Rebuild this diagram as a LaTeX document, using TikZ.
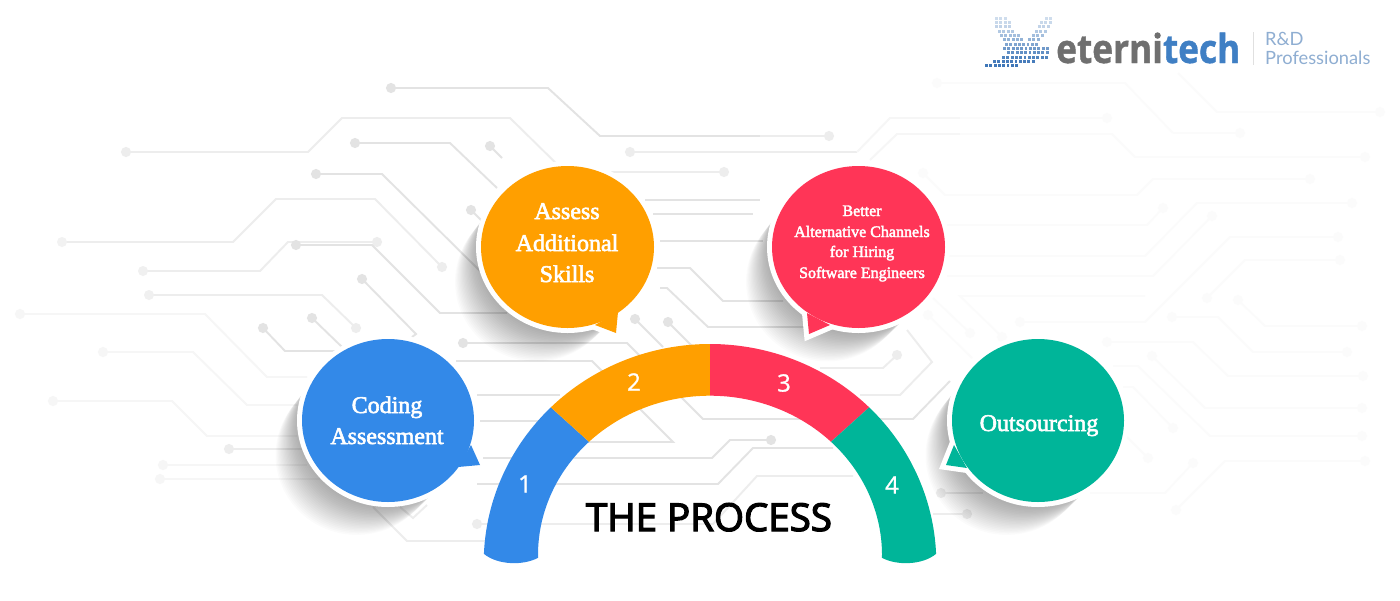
\documentclass[tikz,border=0pt]{standalone}
\usepackage{fontspec}
\usetikzlibrary{arrows.meta}
\setmainfont{Liberation Serif}
\newfontfamily\bubf[FakeBold=2.4]{Liberation Serif}
\newfontfamily\numf[FakeBold=1]{Open Sans}
\newfontfamily\titlef[FakeBold=3.2]{Open Sans}
\newfontfamily\logof[FakeStretch=0.88,FakeBold=1]{Open Sans}
\newfontfamily\logolight{Lato}
\definecolor{cblue}{HTML}{3389E8}
\definecolor{corange}{HTML}{FF9F00}
\definecolor{cred}{HTML}{FF3557}
\definecolor{cteal}{HTML}{00B599}
\definecolor{lgrey}{HTML}{6F6F6F}
\definecolor{lblue}{HTML}{3F7FC4}
\definecolor{lsoft}{HTML}{8FAED2}
\definecolor{dovec}{HTML}{3F77B8}
\tikzset{
  tr/.style={line width=1.9pt,line join=miter},
  wa/.style={tr,draw=black!11},
  wb/.style={tr,draw=black!7},
  wc/.style={tr,draw=black!3.5},
  wd/.style={tr,draw=black!1.7},
  ds/.style={{Circle[length=10pt]}-,shorten <=-5pt},
  de/.style={-{Circle[length=10pt]},shorten >=-5pt},
  dd/.style={{Circle[length=10pt]}-{Circle[length=10pt]},shorten <=-5pt,shorten >=-5pt},
  ring/.style={draw=white,fill=white,line width=10pt,line join=miter,miter limit=10},
  btxt/.style={text=white,font=\bubf\fontsize{24}{24}\selectfont,anchor=base,inner sep=0pt},
  rtxt/.style={text=white,font=\bubf\fontsize{16}{17}\selectfont,anchor=base,inner sep=0pt},
  ntxt/.style={text=white,font=\numf\fontsize{24}{24}\selectfont,anchor=center,inner sep=0pt}
}
\newcommand{\bshadow}[2]{%
  \foreach \i in {1,...,24}{%
    \fill[black,fill opacity=.017] ({#1-\i*1.3},{#2+\i*1.45}) ellipse [x radius={86-\i*0.2}, y radius={81.5-\i*0.08}];
  }}
% centre x, centre y, rx, ry, colour, tail: three points
\newcommand{\bubble}[8]{%
  \path[ring] (#1,#2) ellipse [x radius=#3, y radius=#4];
  \path[ring] #6 -- #7 -- #8 -- cycle;
  \fill[#5] (#1,#2) ellipse [x radius=#3, y radius=#4];
  \fill[#5] #6 -- #7 -- #8 -- cycle;
}
\newcommand{\opt}[1]{({710+226.3*cos(#1)},{563+219*sin(#1)})}
\newcommand{\ipt}[1]{({710+172*cos(#1)},{555+159.3*sin(#1)})}
\tikzset{oarc/.style={x radius=226.3,y radius=219},iarc/.style={x radius=172,y radius=159.3}}
\begin{document}
\begin{tikzpicture}[x=1pt,y=-1pt]
\useasboundingbox (0,0) rectangle (1400,600);
\fill[white] (0,0) rectangle (1400,600);

% ---- circuit traces, left and centre
\draw[wa,ds] (391,88) -- (548,88) -- (600,136) -- (760,136);
\draw[wb,de] (760,136) -- (829,136);
\draw[wb,ds] (126,152) -- (308,152) -- (342,118) -- (510,118) -- (565,172) -- (650,172);
\draw[wb,de] (650,172) -- (724,172);
\draw[wa,ds] (355,143) -- (450,143) -- (497,188);
\draw[wa,ds] (490,146) -- (502,158);
\draw[wa,ds] (316,174) -- (382,174) -- (480,271);
\draw[wb,de] (62,242) -- (233,242) -- (276,199) -- (375,199) -- (442,267);
\fill[black!5] (62,242) circle[radius=5];
\draw[wb,de] (143,271) -- (260,271) -- (288,242) -- (377,242);
\fill[black!6] (143,271) circle[radius=5];
\draw[wa,ds] (296,245) -- (372,245) -- (440,313) -- (507,313);
\draw[wb,de] (149,295) -- (322,295) -- (356,328);
\fill[black!6] (149,295) circle[radius=5];
\draw[wa,ds] (362,279) -- (416,334) -- (412,337);
\draw[wa,ds] (471,210) -- (482,221);
\draw[wc,ds] (20,314) -- (205,314) -- (267,377) -- (307,377);
\draw[wc,ds] (103,352) -- (193,352) -- (247,405) -- (297,405);
\draw[wc,ds] (53,401) -- (172,401) -- (207,436) -- (297,436);
\draw[wb,ds] (229,449) -- (303,449);
\draw[wc,ds] (163,465) -- (307,465);
\draw[wc,ds] (160,479) -- (320,479);
\draw[wa,ds] (263,328) -- (285,351) -- (335,351);
\draw[wa,ds] (312,318) -- (342,347);
\draw[wb] (373,507) -- (407,541) -- (490,541);
\draw[wb] (400,507) -- (413,518) -- (427,505);
\draw[wa,ds] (463,343) -- (627,343) -- (703,419) -- (913,419) -- (950,381);
\draw[wa] (456,361) -- (592,361) -- (673,442) -- (587,442);
\draw[wa] (477,395) -- (560,395);
\draw[wa] (480,421) -- (560,421);
\draw[wa,de] (483,458) -- (712,458) -- (730,440) -- (771,440);
\draw[wa] (477,484) -- (718,484) -- (753,448) -- (833,448);
\draw[wb,ds] (477,524) -- (713,524) -- (757,476) -- (853,476);
% ---- traces between the two top bubbles and the arc
\draw[wa] (645,200) -- (760,200);
\draw[wa] (653,214) -- (753,214);
\draw[wa] (660,241) -- (763,241);
\draw[wa] (657,268) -- (690,268) -- (723,301) -- (783,301);
\draw[wa] (660,288) -- (667,288) -- (708,327) -- (807,327);
\draw[wa,ds] (635,319) -- (663,347);
\draw[wa,ds] (668,322) -- (693,347);
\draw[wb,ds] (630,152) -- (857,152);
\draw[wc] (857,152) -- (890,118) -- (960,118);
\draw[wc] (870,160) -- (897,134) -- (960,134);
\draw[wb] (907,330) -- (932,362) -- (900,395) -- (860,395);
\draw[wb,ds] (897,355) -- (883,368) -- (820,368);
% ---- right side, fading out
\draw[wd,ds] (937,83) -- (1125,83) -- (1173,133);
\draw[wd,de] (1173,133) -- (1240,133);
\draw[wd,de] (1178,73) -- (1217,112) -- (1380,112);
\draw[wd,de] (960,118) -- (1107,118);
\draw[wd,de] (960,134) -- (1112,134) -- (1135,157) -- (1365,157);
\draw[wd,dd] (923,173) -- (945,195) -- (1137,195) -- (1153,179) -- (1310,179);
\draw[wd,de] (947,225) -- (1147,225) -- (1163,208);
\draw[wd,de] (947,256) -- (1145,256) -- (1197,203) -- (1352,203);
\draw[wd,de] (947,276) -- (1153,276) -- (1212,216);
\draw[wd,de] (1145,296) -- (960,296) -- (1002,337);
\draw[wd,de] (933,298) -- (970,333);
\draw[wd,ds] (928,315) -- (972,358);
\draw[wd,dd] (1020,322) -- (1145,322) -- (1230,237) -- (1338,237);
\draw[wd,dd] (1207,298) -- (1245,260) -- (1340,260);
\draw[wd,dd] (1238,300) -- (1265,326) -- (1362,326);
\draw[wd,dd] (1172,317) -- (1218,317) -- (1253,352) -- (1347,352);
\draw[wd,dd] (1107,342) -- (1193,342) -- (1228,376) -- (1363,376);
\draw[wd,dd] (1152,356) -- (1205,408) -- (1362,408);
\draw[wd,de] (1113,366) -- (1138,366) -- (1210,436) -- (1362,436);
\draw[wd,de] (1123,387) -- (1133,387) -- (1173,428);
\draw[wd,de] (1127,437) -- (1148,458);
\draw[wd,de] (1090,493) -- (1165,493) -- (1193,463);
\draw[wd,dd] (1176,510) -- (1225,461) -- (1365,461);
\draw[wb,ds] (941,493) -- (983,493);
\draw[wb,de] (933,514) -- (967,514);

% ---- shadows
\bshadow{388}{420.5}
\bshadow{567.5}{247}
\bshadow{858.5}{247}
\bshadow{1038}{420.5}

% ---- arc
\fill[cblue] \opt{182.4} arc[oarc,start angle=182.4,end angle=225.3] -- \ipt{225.3} arc[iarc,start angle=225.3,end angle=179] .. controls (524,565.5) and (498,565.5) .. cycle;
\fill[corange] \opt{225.3} arc[oarc,start angle=225.3,end angle=270] -- \ipt{270} arc[iarc,start angle=270,end angle=225.3] -- cycle;
\fill[cred] \opt{270} arc[oarc,start angle=270,end angle=314.7] -- \ipt{314.7} arc[iarc,start angle=314.7,end angle=270] -- cycle;
\fill[cteal] \opt{314.7} arc[oarc,start angle=314.7,end angle=357.6] .. controls (922,565.5) and (896,565.5) .. \ipt{361} arc[iarc,start angle=361,end angle=314.7] -- cycle;
\node[ntxt] (n1) at (525,484) {1};
\node[ntxt] (n2) at (634,382) {2};
\node[ntxt] (n3) at (784,383) {3};
\node[ntxt] (n4) at (892,485) {4};
\node[anchor=base,inner sep=0pt,font=\titlef\fontsize{38.5}{38.5}\selectfont,text=black] (title) at (709,531) {THE PROCESS};

% ---- bubbles
\bubble{388}{420.5}{86}{81.5}{cblue}{(471,445)}{(480,465)}{(458,467)}
\bubble{567.5}{247}{86.5}{81}{corange}{(618,312)}{(616,333)}{(595,325)}
\bubble{858.5}{247}{86.5}{81}{cred}{(807,313)}{(809,334)}{(830,325)}
\bubble{1038}{420.5}{86}{81.5}{cteal}{(954,445)}{(946,465)}{(967,468)}

\node[btxt] (c1) at (387,413) {Coding};
\node[btxt] (c2) at (387,444) {Assessment};
\node[btxt] (a1) at (567,219) {Assess};
\node[btxt] (a2) at (567,251) {Additional};
\node[btxt] (a3) at (567,282) {Skills};
\node[rtxt] (b1) at (862,216) {Better};
\node[rtxt] (b2) at (862,237) {Alternative Channels};
\node[rtxt] (b3) at (862,257) {for Hiring};
\node[rtxt] (b4) at (862,278) {Software Engineers};
\node[btxt] (o1) at (1039,431) {Outsourcing};

% ---- logo
\foreach \yy/\xa/\nn/\pct in {16.7/995/2/25,16.7/1045/1/25,21/995/3/28,21/1040/2/28,25.3/995/3/32,25.3/1038/2/32,29.7/998/3/40,29.7/1035/2/40,34/1000/4/48,34/1032/2/48,38.3/1003/4/56,38.3/1028/2/56,42.7/1005/7/66,47/1003/10/74,51.3/1007/9/82,55.7/1002/10/90,60/993/9/96,64.3/985/7/100}{
  \foreach \k in {0,...,\nn}{
    \fill[dovec!\pct!white] ({\xa+\k*4.3},\yy) rectangle +(2.9,2.9);
  }
}
\node[anchor=base west,inner sep=0pt,font=\logof\bfseries\fontsize{40}{40}\selectfont] (logo) at (1056,63) {\textcolor{lgrey}{eterni}\textcolor{lblue}{tech}};
\draw[black!12,line width=1pt] (1253,32) -- (1253,65);
\node[anchor=base west,inner sep=0pt,font=\logolight\fontsize{18.3}{18}\selectfont,text=lsoft] (rd1) at (1265,45) {R\&D};
\node[anchor=base west,inner sep=0pt,font=\logolight\fontsize{18.3}{18}\selectfont,text=lsoft] (rd2) at (1265,64) {Professionals};
\end{tikzpicture}
\end{document}
